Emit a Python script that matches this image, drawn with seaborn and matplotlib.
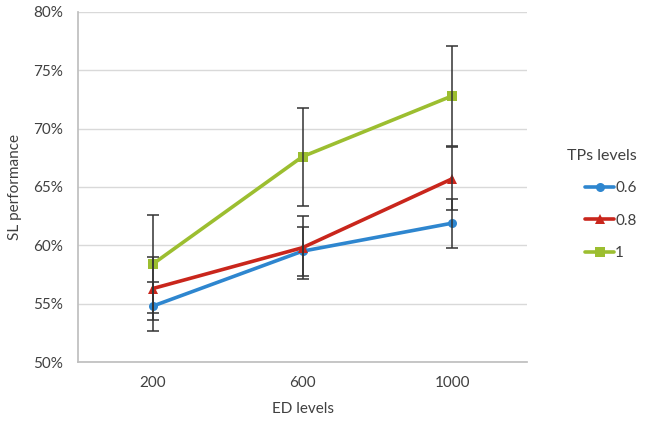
import matplotlib
matplotlib.use("Agg")
import matplotlib.pyplot as plt
import seaborn as sns
import pandas as pd
import numpy as np

ed_levels = [200, 600, 1000]
tp_levels = ["0.6", "0.8", "1"]
perf_06 = [54.8, 59.5, 61.9]
perf_08 = [56.3, 59.8, 65.7]
perf_1 = [58.4, 67.6, 72.8]
err_06 = [2.1, 2.1, 2.1]
err_08 = [2.7, 2.7, 2.7]
err_1 = [4.2, 4.2, 4.3]
yticks = [50, 55, 60, 65, 70, 75, 80]

sns.set_theme(style="white")
plt.rcParams['font.family'] = ['Lato', 'DejaVu Sans']

rows = []
for tp, vals in zip(tp_levels, [perf_06, perf_08, perf_1]):
    for ed, v in zip(ed_levels, vals):
        rows.append({"ED levels": ed, "SL performance": v, "TPs levels": tp})
df = pd.DataFrame(rows)

colors = {"0.6": "#2E86CF", "0.8": "#C9261C", "1": "#9CBE30"}
markers = {"0.6": "o", "0.8": "^", "1": "s"}

fig = plt.figure(figsize=(6.45, 4.23), dpi=100)
ax = fig.add_axes([0.121, 0.144, 0.696, 0.828])

# error bars
for tp, vals, errs in zip(tp_levels, [perf_06, perf_08, perf_1], [err_06, err_08, err_1]):
    ax.errorbar(ed_levels, vals, yerr=errs, fmt="none", ecolor="#333333",
                elinewidth=1.1, capsize=4, capthick=1.1, zorder=3)

sns.lineplot(data=df, x="ED levels", y="SL performance", hue="TPs levels",
             style="TPs levels", markers=markers, dashes=False, palette=colors,
             linewidth=2.6, markersize=6.5, markeredgewidth=0, ax=ax, zorder=2)

ax.set_xlim(0, 1200)
ax.set_ylim(50, 80)
ax.set_xticks(ed_levels)
ax.set_xticklabels([str(e) for e in ed_levels])
ax.set_yticks(yticks)
ax.set_yticklabels([f"{t}%" for t in yticks])
ax.yaxis.grid(True, color="#d9d9d9", linewidth=1)
ax.set_axisbelow(True)
for s in ["top", "right"]:
    ax.spines[s].set_visible(False)
ax.spines["left"].set_color("#bfbfbf")
ax.spines["bottom"].set_color("#bfbfbf")
ax.tick_params(axis="both", labelsize=11, colors="#404040", length=0, pad=10)
ax.tick_params(axis="y", length=5, color="#bfbfbf", direction="out", pad=6)
ax.set_xlabel("ED levels", fontsize=11, color="#404040", labelpad=9)
ax.set_ylabel("SL performance", fontsize=11, color="#404040", labelpad=8)

handles, labels = ax.get_legend_handles_labels()
leg = ax.legend(handles, labels, title="TPs levels", frameon=False,
                loc="upper left", bbox_to_anchor=(1.058, 0.648),
                fontsize=11, title_fontsize=11.5, handlelength=1.9,
                labelspacing=1.2, handletextpad=0.05, alignment="right")
for t in leg.get_texts():
    t.set_color("#404040")
leg.get_title().set_color("#404040")

fig.savefig("out.png", dpi=100)
